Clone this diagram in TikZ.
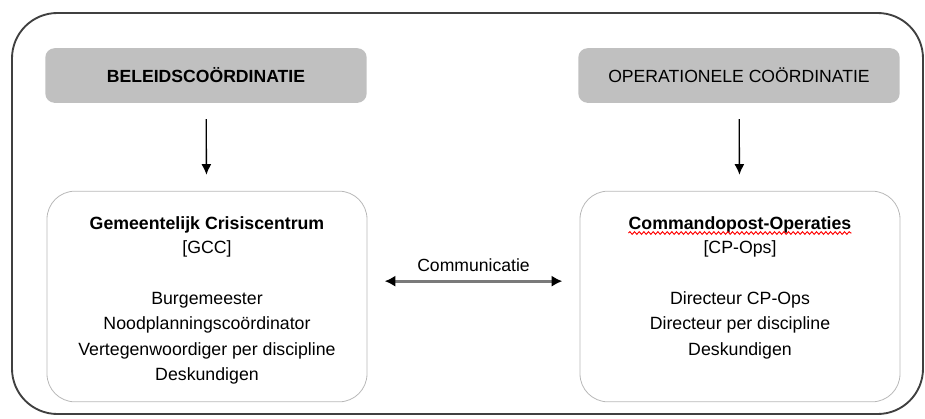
\documentclass[tikz,border=0pt]{standalone}
\usepackage{fontspec}
\setmainfont{Liberation Sans}
\usepackage{tikz}
\usetikzlibrary{arrows.meta,positioning,decorations.pathmorphing}

\definecolor{hdrgray}{HTML}{C0C0C0}
\definecolor{boxgray}{HTML}{B8B8B8}
\definecolor{framegray}{HTML}{404040}
\definecolor{shaftgray}{HTML}{7A7A7A}

\begin{document}
\begin{tikzpicture}[
  x=0.75pt, y=-0.75pt,
  hnode/.style={fill=hdrgray,rounded corners=7pt,minimum width=241pt,minimum height=41pt,inner sep=0pt,font=\fontsize{13.2}{16}\selectfont},
  bnode/.style={draw=boxgray,line width=0.6pt,rounded corners=21pt,minimum width=240pt,minimum height=158pt,inner sep=0pt},
  tnode/.style={inner sep=0pt,font=\fontsize{13.3}{19}\selectfont\bfseries,text height=0.75em,text depth=0.25em},
  lnode/.style={inner sep=0pt,align=center,font=\fontsize{13.3}{19}\selectfont},
  down/.style={-{Latex[length=8pt,width=7.5pt]},line width=1pt,shorten <=12pt,shorten >=12pt}
]
  \useasboundingbox (0,0) rectangle (925,418);

  % frame
  \draw[framegray,line width=1.4pt,rounded corners=34pt] (12,13) rectangle (923,414);

  % headers
  \node[hnode] (beleid) at (206,75.5) {\bfseries BELEIDSCOÖRDINATIE};
  \node[hnode] (oper) at (739,75.5) {OPERATIONELE COÖRDINATIE};

  % boxes
  \node[bnode] (gcc) at (207,296.5) {};
  \node[bnode] (cpops) at (740,296.5) {};

  % box texts
  \node[tnode,anchor=base] (gcct) at (207,229) {Gemeentelijk Crisiscentrum};
  \node[lnode,below=6pt of gcct] (gccl) {[GCC]\\[19pt]
    Burgemeester\\Noodplanningscoördinator\\Vertegenwoordiger per discipline\\Deskundigen};
  \node[tnode,anchor=base] (cpt) at (740,229) {Commandopost-Operaties};
  \node[lnode,below=6pt of cpt] (cpl) {[CP-Ops]\\[19pt]
    Directeur CP-Ops\\Directeur per discipline\\Deskundigen};
  \draw[red,line width=0.7pt,decorate,decoration={snake,amplitude=1pt,segment length=3.5pt}]
    ([yshift=-3pt]cpt.base west) -- ([yshift=-3pt]cpt.base east);

  % arrows
  \draw[down] (beleid) -- (gcc);
  \draw[down] (oper) -- (cpops);
  \draw[{Latex[length=8pt,width=8.5pt,color=black]}-{Latex[length=8pt,width=8.5pt,color=black]},shaftgray,line width=2pt,shorten <=13pt,shorten >=13pt]
    ([yshift=11.5pt]gcc.east) -- node[above=3pt,black,font=\fontsize{13.2}{16}\selectfont] (comm) {Communicatie} ([yshift=11.5pt]cpops.west);

\end{tikzpicture}
\end{document}
